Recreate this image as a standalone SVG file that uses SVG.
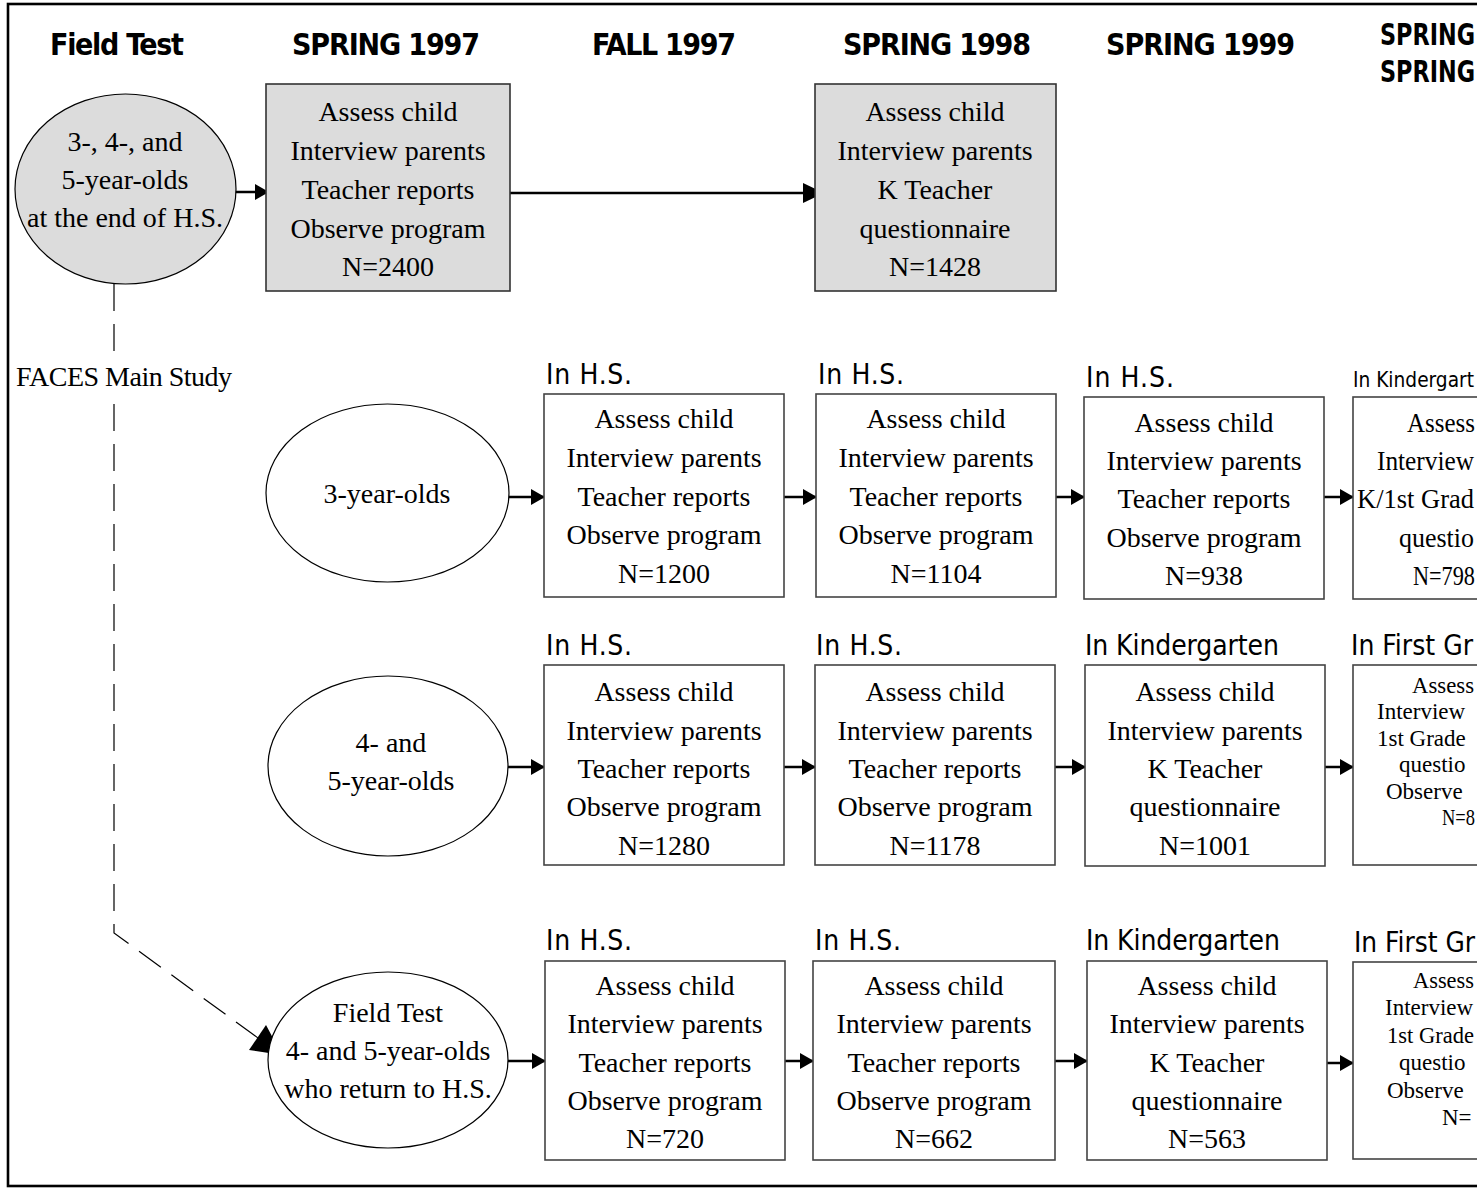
<svg xmlns="http://www.w3.org/2000/svg" width="1477" height="1188" viewBox="0 0 1477 1188">
<style>
.hd{font-family:"DejaVu Sans Condensed","DejaVu Sans",sans-serif;font-stretch:condensed;font-weight:bold;font-size:30px;fill:#000}
.lb{font-family:"DejaVu Sans Condensed","DejaVu Sans",sans-serif;font-stretch:condensed;font-size:28px;fill:#000}
.lbs{font-family:"DejaVu Sans Condensed","DejaVu Sans",sans-serif;font-stretch:condensed;font-size:21px;fill:#000}
.tx{font-family:"Liberation Serif","Times New Roman",serif;font-size:28px;fill:#000;text-anchor:middle}
.txl{font-family:"Liberation Serif","Times New Roman",serif;font-size:28px;fill:#000}
.txs{font-family:"Liberation Serif","Times New Roman",serif;font-size:23px;fill:#000}
.box{fill:#fff;stroke:#444;stroke-width:1.6}
.gbox{fill:#dcdcdc;stroke:#333;stroke-width:1.6}
.ell{fill:#fff;stroke:#000;stroke-width:1.2}
.gell{fill:#dcdcdc;stroke:#000;stroke-width:1.2}
.arr{stroke:#000;stroke-width:2.5;fill:none;marker-end:url(#ah)}
.arrb{stroke:#000;stroke-width:2.5;fill:none;marker-end:url(#ahb)}
.dash{stroke:#000;stroke-width:1.2;fill:none;stroke-dasharray:27 13}
</style>
<defs>
<marker id="ah" viewBox="0 0 14 16" refX="13" refY="8" markerWidth="14" markerHeight="16" markerUnits="userSpaceOnUse" orient="auto">
<path d="M0,0 L14,8 L0,16 Z" fill="#000"/>
</marker>
<marker id="ahb" viewBox="0 0 21 20" refX="20" refY="10" markerWidth="21" markerHeight="20" markerUnits="userSpaceOnUse" orient="auto">
<path d="M0,0 L21,10 L0,20 Z" fill="#000"/>
</marker>
</defs>
<rect x="0" y="0" width="1477" height="1188" fill="#fff"/>
<rect id="frame" x="8" y="4" width="1520" height="1182" fill="none" stroke="#000" stroke-width="2.6"/>

<g id="headers">
<text class="hd" x="50" y="55" textLength="134">Field Test</text>
<text class="hd" x="292" y="55" textLength="188">SPRING 1997</text>
<text class="hd" x="592" y="55" textLength="144">FALL 1997</text>
<text class="hd" x="843" y="55" textLength="188">SPRING 1998</text>
<text class="hd" x="1106" y="55" textLength="189">SPRING 1999</text>
<text class="hd" x="1380" y="45" textLength="95" lengthAdjust="spacingAndGlyphs">SPRING</text>
<text class="hd" x="1380" y="82" textLength="95" lengthAdjust="spacingAndGlyphs">SPRING</text>
</g>

<g id="connectors">
<path class="dash" d="M114,284 L114,933 L258,1038"/>
<polygon points="249,1050 266,1025 282,1055" fill="#000"/>
<line class="arr" x1="231" y1="192" x2="268" y2="192"/>
<line class="arrb" x1="505" y1="193" x2="823" y2="193"/>
<line class="arr" x1="509" y1="497" x2="544" y2="497"/>
<line class="arr" x1="777" y1="497" x2="816" y2="497"/>
<line class="arr" x1="1045" y1="497" x2="1084" y2="497"/>
<line class="arr" x1="1315" y1="497" x2="1353" y2="497"/>
<line class="arr" x1="508" y1="767" x2="544" y2="767"/>
<line class="arr" x1="776" y1="767" x2="815" y2="767"/>
<line class="arr" x1="1045" y1="767" x2="1085" y2="767"/>
<line class="arr" x1="1313" y1="767" x2="1353" y2="767"/>
<line class="arr" x1="507" y1="1061" x2="545" y2="1061"/>
<line class="arr" x1="774" y1="1061" x2="813" y2="1061"/>
<line class="arr" x1="1048" y1="1061" x2="1087" y2="1061"/>
<line class="arr" x1="1315" y1="1063" x2="1353" y2="1063"/>
</g>

<g id="ft-ellipse">
<ellipse class="gell" cx="125.5" cy="189" rx="110.5" ry="95"/>
<text class="tx" x="125" y="151">3-, 4-, and</text>
<text class="tx" x="125" y="189">5-year-olds</text>
<text class="tx" x="125" y="227">at the end of H.S.</text>
</g>

<g id="ft-spring1997">
<rect class="gbox" x="266" y="84" width="244" height="207"/>
<text class="tx" x="388" y="121">Assess child</text>
<text class="tx" x="388" y="160">Interview parents</text>
<text class="tx" x="388" y="199">Teacher reports</text>
<text class="tx" x="388" y="238">Observe program</text>
<text class="tx" x="388" y="276">N=2400</text>
</g>

<g id="ft-spring1998">
<rect class="gbox" x="815" y="84" width="241" height="207"/>
<text class="tx" x="935" y="121">Assess child</text>
<text class="tx" x="935" y="160">Interview parents</text>
<text class="tx" x="935" y="199">K Teacher</text>
<text class="tx" x="935" y="238">questionnaire</text>
<text class="tx" x="935" y="276">N=1428</text>
</g>

<g id="main-label">
<rect x="14" y="360" width="222" height="36" fill="#fff"/>
<text class="txl" x="16" y="386" textLength="216">FACES Main Study</text>
</g>

<g id="e3">
<ellipse class="ell" cx="387.5" cy="493" rx="121.5" ry="89"/>
<text class="tx" x="387" y="503">3-year-olds</text>
</g>

<g id="r1a">
<text class="lb" x="546" y="384" textLength="86">In H.S.</text>
<rect class="box" x="544" y="394" width="240" height="203"/>
<text class="tx" x="664" y="428">Assess child</text>
<text class="tx" x="664" y="467">Interview parents</text>
<text class="tx" x="664" y="506">Teacher reports</text>
<text class="tx" x="664" y="544">Observe program</text>
<text class="tx" x="664" y="583">N=1200</text>
</g>
<g id="r1b">
<text class="lb" x="818" y="384" textLength="86">In H.S.</text>
<rect class="box" x="816" y="394" width="240" height="203"/>
<text class="tx" x="936" y="428">Assess child</text>
<text class="tx" x="936" y="467">Interview parents</text>
<text class="tx" x="936" y="506">Teacher reports</text>
<text class="tx" x="936" y="544">Observe program</text>
<text class="tx" x="936" y="583">N=1104</text>
</g>
<g id="r1c">
<text class="lb" x="1086" y="387" textLength="88">In H.S.</text>
<rect class="box" x="1084" y="397" width="240" height="202"/>
<text class="tx" x="1204" y="432">Assess child</text>
<text class="tx" x="1204" y="470">Interview parents</text>
<text class="tx" x="1204" y="508">Teacher reports</text>
<text class="tx" x="1204" y="547">Observe program</text>
<text class="tx" x="1204" y="585">N=938</text>
</g>
<g id="r1d">
<text class="lbs" x="1353" y="387" textLength="121" lengthAdjust="spacingAndGlyphs">In Kindergart</text>
<rect class="box" x="1353" y="397" width="200" height="202"/>
<text class="txl" x="1407" y="432" textLength="68" lengthAdjust="spacingAndGlyphs">Assess</text>
<text class="txl" x="1377" y="470" textLength="97" lengthAdjust="spacingAndGlyphs">Interview</text>
<text class="txl" x="1357" y="508" textLength="117" lengthAdjust="spacingAndGlyphs">K/1st Grad</text>
<text class="txl" x="1399" y="547" textLength="75" lengthAdjust="spacingAndGlyphs">questio</text>
<text class="txl" x="1413" y="585" textLength="62" lengthAdjust="spacingAndGlyphs">N=798</text>
</g>

<g id="e45">
<ellipse class="ell" cx="388" cy="766" rx="120" ry="90"/>
<text class="tx" x="391" y="752">4- and</text>
<text class="tx" x="391" y="790">5-year-olds</text>
</g>

<g id="r2a">
<text class="lb" x="546" y="655" textLength="86">In H.S.</text>
<rect class="box" x="544" y="665" width="240" height="200"/>
<text class="tx" x="664" y="701">Assess child</text>
<text class="tx" x="664" y="740">Interview parents</text>
<text class="tx" x="664" y="778">Teacher reports</text>
<text class="tx" x="664" y="816">Observe program</text>
<text class="tx" x="664" y="855">N=1280</text>
</g>
<g id="r2b">
<text class="lb" x="816" y="655" textLength="86">In H.S.</text>
<rect class="box" x="815" y="665" width="240" height="200"/>
<text class="tx" x="935" y="701">Assess child</text>
<text class="tx" x="935" y="740">Interview parents</text>
<text class="tx" x="935" y="778">Teacher reports</text>
<text class="tx" x="935" y="816">Observe program</text>
<text class="tx" x="935" y="855">N=1178</text>
</g>
<g id="r2c">
<text class="lb" x="1085" y="655" textLength="194">In Kindergarten</text>
<rect class="box" x="1085" y="665" width="240" height="201"/>
<text class="tx" x="1205" y="701">Assess child</text>
<text class="tx" x="1205" y="740">Interview parents</text>
<text class="tx" x="1205" y="778">K Teacher</text>
<text class="tx" x="1205" y="816">questionnaire</text>
<text class="tx" x="1205" y="855">N=1001</text>
</g>
<g id="r2d">
<text class="lb" x="1351" y="655" textLength="122" lengthAdjust="spacingAndGlyphs">In First Gr</text>
<rect class="box" x="1353" y="665" width="200" height="200"/>
<text class="txs" x="1412" y="693" textLength="62" lengthAdjust="spacingAndGlyphs">Assess</text>
<text class="txs" x="1377" y="719">Interview</text>
<text class="txs" x="1377" y="746">1st Grade</text>
<text class="txs" x="1399" y="772">questio</text>
<text class="txs" x="1386" y="799">Observe</text>
<text class="txs" x="1442" y="825" textLength="33" lengthAdjust="spacingAndGlyphs">N=8</text>
</g>

<g id="e-ft">
<ellipse class="ell" cx="388" cy="1060" rx="120" ry="88"/>
<text class="tx" x="388" y="1022">Field Test</text>
<text class="tx" x="388" y="1060">4- and 5-year-olds</text>
<text class="tx" x="388" y="1098">who return to H.S.</text>
</g>

<g id="r3a">
<text class="lb" x="546" y="950" textLength="86">In H.S.</text>
<rect class="box" x="545" y="961" width="240" height="199"/>
<text class="tx" x="665" y="995">Assess child</text>
<text class="tx" x="665" y="1033">Interview parents</text>
<text class="tx" x="665" y="1072">Teacher reports</text>
<text class="tx" x="665" y="1110">Observe program</text>
<text class="tx" x="665" y="1148">N=720</text>
</g>
<g id="r3b">
<text class="lb" x="815" y="950" textLength="86">In H.S.</text>
<rect class="box" x="813" y="961" width="242" height="199"/>
<text class="tx" x="934" y="995">Assess child</text>
<text class="tx" x="934" y="1033">Interview parents</text>
<text class="tx" x="934" y="1072">Teacher reports</text>
<text class="tx" x="934" y="1110">Observe program</text>
<text class="tx" x="934" y="1148">N=662</text>
</g>
<g id="r3c">
<text class="lb" x="1086" y="950" textLength="194">In Kindergarten</text>
<rect class="box" x="1087" y="961" width="240" height="199"/>
<text class="tx" x="1207" y="995">Assess child</text>
<text class="tx" x="1207" y="1033">Interview parents</text>
<text class="tx" x="1207" y="1072">K Teacher</text>
<text class="tx" x="1207" y="1110">questionnaire</text>
<text class="tx" x="1207" y="1148">N=563</text>
</g>
<g id="r3d">
<text class="lb" x="1354" y="952" textLength="121" lengthAdjust="spacingAndGlyphs">In First Gr</text>
<rect class="box" x="1353" y="962" width="200" height="197"/>
<text class="txs" x="1413" y="988" textLength="61" lengthAdjust="spacingAndGlyphs">Assess</text>
<text class="txs" x="1385" y="1015">Interview</text>
<text class="txs" x="1387" y="1043" textLength="87" lengthAdjust="spacingAndGlyphs">1st Grade</text>
<text class="txs" x="1399" y="1070">questio</text>
<text class="txs" x="1387" y="1098">Observe</text>
<text class="txs" x="1442" y="1125">N=</text>
</g>
</svg>
